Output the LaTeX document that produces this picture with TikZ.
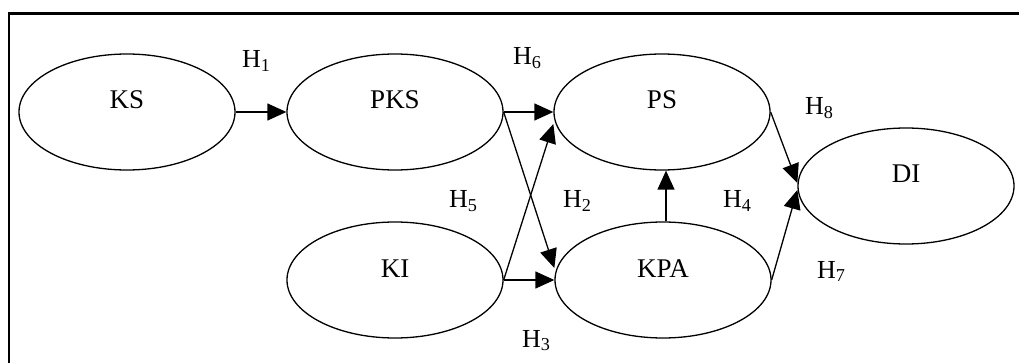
\documentclass[tikz,border=0pt]{standalone}
\usepackage{fontspec}
\setmainfont{Liberation Serif}
\usetikzlibrary{shapes.geometric,arrows.meta}
\begin{document}
\begin{tikzpicture}[x=1pt,y=-1pt,
  construct/.style={ellipse,draw,line width=1.3pt,minimum width=216pt,minimum height=116pt,inner sep=0pt,
    font=\fontsize{27}{31}\selectfont,text height=18pt,text depth=24pt},
  hyp/.style={anchor=base west,inner sep=0pt,font=\fontsize{26}{29}\selectfont},
  link/.style={line width=1.3pt,-{Triangle[length=19pt,width=17pt]}}]
\useasboundingbox (0,0) rectangle (1019,363);
\draw[line width=2.8pt] (9,366) -- (9,13.5) -- (1022,13.5);
\node[construct] (KS)  at (127,112) {KS};
\node[construct] (PKS) at (395,112) {PKS};
\node[construct] (PS)  at (662,112) {PS};
\node[construct] (DI)  at (906,186) {DI};
\node[construct] (KI)  at (395,280) {KI};
\node[construct] (KPA) at (663,280) {KPA};
\draw[link] (KS.east) -- (PKS.west);
\draw[link] (PKS.east) -- (PS.west);
\draw[link] (PKS.east) -- ([yshift=12pt]KPA.west);
\draw[link] (KI.east) -- ([yshift=-12pt]PS.west);
\draw[link] (KI.east) -- (KPA.west);
\draw[link] ([xshift=3pt]KPA.north) -- ([xshift=3pt]KPA.north |- PS.south);
\draw[link] (PS.east) -- ([yshift=3pt]DI.west);
\draw[link] (KPA.east) -- ([yshift=-4pt]DI.west);
\node[hyp] (h1) at (242,68) {H\textsubscript{1}};
\node[hyp] (h6) at (513,65) {H\textsubscript{6}};
\node[hyp] (h5) at (449,208) {H\textsubscript{5}};
\node[hyp] (h2) at (563,208) {H\textsubscript{2}};
\node[hyp] (h4) at (723,208) {H\textsubscript{4}};
\node[hyp] (h3) at (522,347) {H\textsubscript{3}};
\node[hyp] (h8) at (805,115) {H\textsubscript{8}};
\node[hyp] (h7) at (817,278) {H\textsubscript{7}};
\end{tikzpicture}
\end{document}
